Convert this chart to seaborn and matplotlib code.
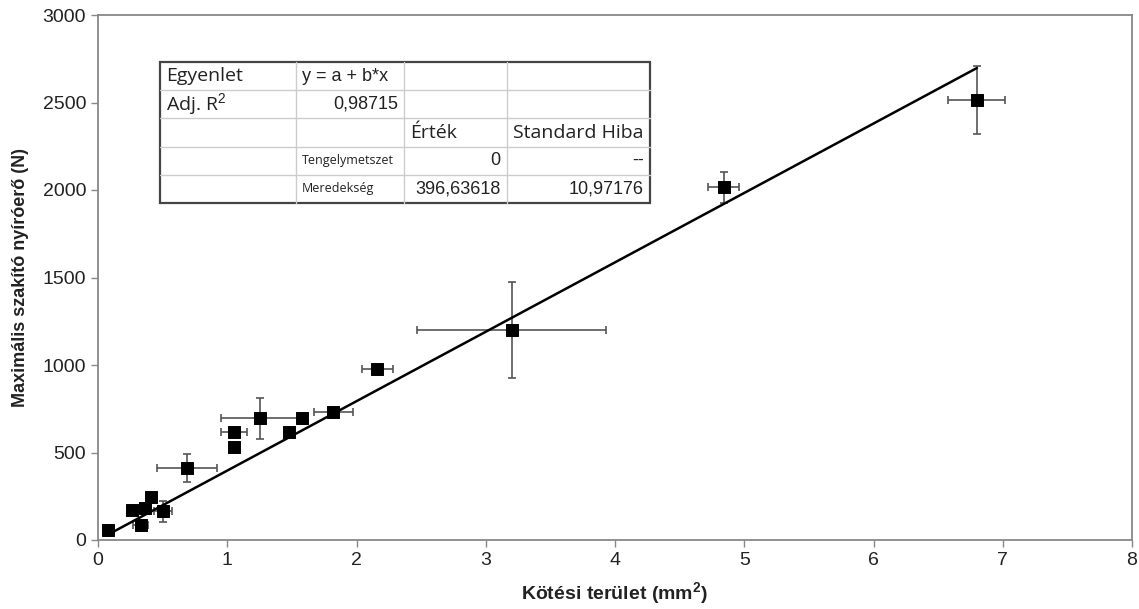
import matplotlib
matplotlib.use("Agg")
import matplotlib.pyplot as plt
import seaborn as sns
import pandas as pd
import numpy as np
from matplotlib.patches import Rectangle

# ---- data ----
area = [0.08, 0.26, 0.33, 0.36, 0.41, 0.50, 0.69, 1.05, 1.05, 1.25, 1.48, 1.58, 1.82, 2.16, 3.20, 4.84, 6.80]
force = [60, 170, 85, 185, 245, 165, 410, 530, 615, 695, 615, 695, 730, 975, 1200, 2015, 2515]
area_err = [0, 0, 0.06, 0, 0, 0.07, 0.23, 0, 0.10, 0.30, 0, 0, 0.15, 0.12, 0.73, 0.12, 0.22]
force_err = [0, 0, 0, 0, 0, 60, 80, 0, 0, 115, 0, 0, 0, 20, 275, 90, 195]
slope = 396.63618

table_rows = [
    ["Egyenlet", "y = a + b*x", "", ""],
    ["Adj. R$^2$", "0,98715", "", ""],
    ["", "", "Érték", "Standard Hiba"],
    ["", "Tengelymetszet", "0", "--"],
    ["", "Meredekség", "396,63618", "10,97176"],
]

xticks = list(range(0, 9))
yticks = list(range(0, 3001, 500))

df = pd.DataFrame({"x": area, "y": force})
fit = pd.DataFrame({"x": [min(area), max(area)]})
fit["y"] = slope * fit["x"]

sns.set_theme(style="white")
plt.rcParams["font.family"] = ["Liberation Sans", "DejaVu Sans"]
plt.rcParams["mathtext.fontset"] = "custom"
plt.rcParams["mathtext.rm"] = "Liberation Sans"
plt.rcParams["mathtext.bf"] = "Liberation Sans:bold"

fig = plt.figure(figsize=(11.39, 6.09), dpi=100)
ax = fig.add_axes([98 / 1139, 1 - 540 / 609, 1034 / 1139, 525 / 609])

ax.errorbar(area, force, xerr=area_err, yerr=force_err, fmt="none",
            ecolor="#555555", elinewidth=1.2, capsize=3, capthick=1.2, zorder=2)
sns.lineplot(data=fit, x="x", y="y", ax=ax, color="black", linewidth=1.8, zorder=3)
sns.scatterplot(data=df, x="x", y="y", ax=ax, marker="s", s=75, color="black",
                edgecolor="black", zorder=4)

ax.set_xlim(0, 8)
ax.set_ylim(0, 3000)
ax.set_xticks(xticks)
ax.set_yticks(yticks)
ax.tick_params(axis="both", direction="out", length=5, width=1, color="#888888",
               labelsize=14, labelcolor="#222222", bottom=True, left=True)
for s in ["left", "bottom", "top", "right"]:
    ax.spines[s].set_visible(True)
    ax.spines[s].set_color("#888888")
    ax.spines[s].set_linewidth(1.3)

ax.set_xlabel("Kötési terület (mm$^\\mathbf{2}$)", fontsize=14, fontweight="bold", color="#222222", labelpad=8)
ax.set_ylabel("Maximális szakító nyíróerő (N)", fontsize=13, fontweight="bold", color="#222222", labelpad=10)

# ---- fit table ----
tx0, tx1 = (160 - 98) / 1034, (650 - 98) / 1034
ty1, ty0 = (540 - 62) / 525, (540 - 203) / 525
col_edges_px = [160, 296, 404, 507, 650]
col_edges = [(c - 98) / 1034 for c in col_edges_px]
nrows = len(table_rows)
rh = (ty1 - ty0) / nrows

ax.add_patch(Rectangle((tx0, ty0), tx1 - tx0, ty1 - ty0, transform=ax.transAxes,
                       facecolor="white", edgecolor="#444444", linewidth=1.6, zorder=5))
for c in col_edges[1:-1]:
    ax.plot([c, c], [ty0, ty1], transform=ax.transAxes, color="#cccccc", lw=1, zorder=6)
for r in range(1, nrows):
    y = ty1 - r * rh
    ax.plot([tx0, tx1], [y, y], transform=ax.transAxes, color="#cccccc", lw=1, zorder=6)

pad = 0.006
for r, row in enumerate(table_rows):
    yc = ty1 - (r + 0.5) * rh
    for c, txt in enumerate(row):
        if not txt:
            continue
        left, right = col_edges[c], col_edges[c + 1]
        size = 14
        ha = "left"
        xpos = left + pad
        fam = ["Open Sans", "DejaVu Sans"]
        if c == 1 and r in (3, 4):
            size = 9
        if c == 1 and r == 0:
            size = 13
            fam = ["Liberation Sans", "DejaVu Sans"]
        if (c == 1 and r == 1) or (c >= 2 and r >= 3):
            ha = "right"
            xpos = right - pad
            size = 13
            fam = ["Liberation Sans", "DejaVu Sans"]
        ax.text(xpos, yc, txt, transform=ax.transAxes, ha=ha, va="center",
                fontsize=size, color="#222222", zorder=7, family=fam)

fig.savefig("out.png", dpi=100)
